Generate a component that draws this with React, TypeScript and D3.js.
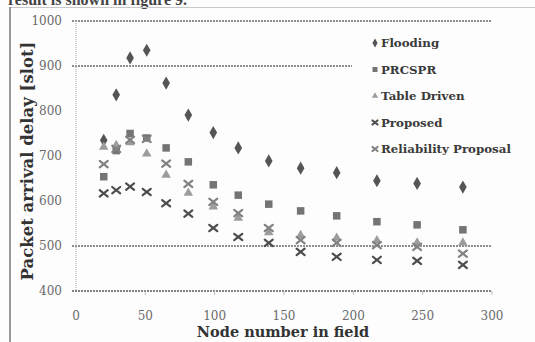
import React from "react";
import * as d3 from "d3";

const nodes = [20, 29, 39, 51, 65, 81, 99, 117, 139, 162, 188, 217, 246, 279];
const flooding = [735, 836, 918, 935, 862, 791, 752, 718, 689, 673, 663, 645, 639, 631];
const prcspr = [654, 712, 750, 740, 718, 687, 636, 613, 593, 578, 567, 554, 547, 536];
const tableDriven = [720, 724, 730, 705, 658, 618, 587, 562, 530, 524, 518, 512, 507, 507];
const proposed = [617, 624, 632, 620, 595, 572, 540, 520, 507, 487, 476, 469, 467, 458];
const reliability = [682, 716, 736, 738, 683, 638, 598, 573, 540, 513, 507, 502, 498, 483];

const yTicks = [400, 500, 600, 700, 800, 900, 1000];
const xTicks = [0, 50, 100, 150, 200, 250, 300];
const gridValues = [1000, 900, 500];
const legendNames = ["Flooding", "PRCSPR", "Table Driven", "Proposed", "Reliability Proposal"];

const W = 535;
const H = 342;

type Kind = "diamond" | "square" | "triangle" | "x";

function Marker({ kind, cx, cy, s, color }: { kind: Kind; cx: number; cy: number; s: number; color: string }) {
  if (kind === "diamond") {
    const p = d3.symbol(d3.symbolDiamond, s * s * 0.9)();
    return <path d={p || ""} transform={`translate(${cx},${cy})`} fill={color} />;
  }
  if (kind === "square") {
    return <rect x={cx - s / 2} y={cy - s / 2} width={s} height={s} fill={color} />;
  }
  if (kind === "triangle") {
    const p = d3.symbol(d3.symbolTriangle, s * s * 0.7)();
    return <path d={p || ""} transform={`translate(${cx},${cy})`} fill={color} />;
  }
  const h = s / 2;
  return (
    <g stroke={color} strokeWidth={2.2} strokeLinecap="round">
      <line x1={cx - h} y1={cy - h * 0.8} x2={cx + h} y2={cy + h * 0.8} />
      <line x1={cx - h} y1={cy + h * 0.8} x2={cx + h} y2={cy - h * 0.8} />
    </g>
  );
}

export default function App() {
  const x = d3.scaleLinear().domain([0, 300]).range([76, 492]);
  const y = d3.scaleLinear().domain([400, 1000]).range([291, 21]);

  const series: { name: string; data: number[]; kind: Kind; color: string }[] = [
    { name: legendNames[0], data: flooding, kind: "diamond", color: "#555" },
    { name: legendNames[1], data: prcspr, kind: "square", color: "#747474" },
    { name: legendNames[2], data: tableDriven, kind: "triangle", color: "#9c9c9c" },
    { name: legendNames[3], data: proposed, kind: "x", color: "#4e4e4e" },
    { name: legendNames[4], data: reliability, kind: "x", color: "#828282" },
  ];

  const serif = "'DejaVu Serif', serif";
  const legendY = d3.scaleLinear().domain([0, 4]).range([43, 149]);

  return (
    <svg
      width={W}
      height={H}
      style={{ position: "absolute", left: 0, top: 0, background: "#fff" }}
    >
      <rect x={0} y={0} width={W} height={H} fill="#fdfdfd" />
      {/* caption cut at top, as in the scanned page */}
      <text x={8} y={5} fontFamily="'Liberation Serif', serif" fontWeight="bold" fontSize={16} fill="#444">
        result is shown in figure 9.
      </text>
      {/* frame */}
      <line x1={10} y1={7.5} x2={W} y2={7.5} stroke="#c8c8c8" strokeWidth={1} />
      <line x1={10} y1={7} x2={10} y2={H} stroke="#777" strokeWidth={1.5} />

      {/* gridlines */}
      {gridValues.map((v) => (
        <g key={v}>
          <line
            x1={72}
            x2={v === 900 ? 352 : 492}
            y1={y(v)}
            y2={y(v)}
            stroke="#6a6a6a"
            strokeWidth={1.4}
            strokeDasharray="2,1"
          />
        </g>
      ))}
      {/* x axis */}
      <line x1={72} x2={492} y1={y(400)} y2={y(400)} stroke="#5a5a5a" strokeWidth={1.6} strokeDasharray="2,1" />
      {/* y axis */}
      <line x1={x(0)} x2={x(0)} y1={y(1000)} y2={y(400)} stroke="#aaa" strokeWidth={1} strokeDasharray="1,1" />
      {xTicks.slice(1).map((t) => (
        <line key={t} x1={x(t)} x2={x(t)} y1={y(400)} y2={y(400) + 4} stroke="#bbb" strokeWidth={1} />
      ))}

      {/* y tick labels */}
      {yTicks.map((t) => (
        <text
          key={t}
          x={62}
          y={y(t)}
          dy="0.35em"
          textAnchor="end"
          fontFamily={serif}
          fontSize={12}
          fill="#6a6a6a"
        >
          {t}
        </text>
      ))}
      {/* x tick labels */}
      {xTicks.map((t) => (
        <text
          key={t}
          x={x(t)}
          y={320}
          textAnchor="middle"
          fontFamily={serif}
          fontSize={12}
          fill="#6a6a6a"
        >
          {t}
        </text>
      ))}

      {/* axis titles */}
      <text
        x={283}
        y={337}
        textAnchor="middle"
        fontFamily={serif}
        fontWeight="bold"
        fontSize={14.5}
        fill="#333"
      >
        Node number in field
      </text>
      <text
        transform={`translate(33,${161}) rotate(-90)`}
        textAnchor="middle"
        fontFamily={serif}
        fontWeight="bold"
        fontSize={16.5}
        fill="#333"
      >
        Packet arrival delay [slot]
      </text>

      {/* data */}
      {series.map((s) => (
        <g key={s.name}>
          {s.data.map((v, i) => (
            <Marker key={i} kind={s.kind} cx={x(nodes[i])} cy={y(v)} s={s.kind === "x" ? 8 : 7.5} color={s.color} />
          ))}
        </g>
      ))}

      {/* legend */}
      {series.map((s, i) => (
        <g key={s.name}>
          <Marker kind={s.kind} cx={375} cy={legendY(i)} s={5} color={s.color} />
          <text
            x={381}
            y={legendY(i)}
            dy="0.35em"
            fontFamily={serif}
            fontWeight="bold"
            fontSize={11.8}
            fill="#3a3a3a"
          >
            {s.name}
          </text>
        </g>
      ))}
    </svg>
  );
}
